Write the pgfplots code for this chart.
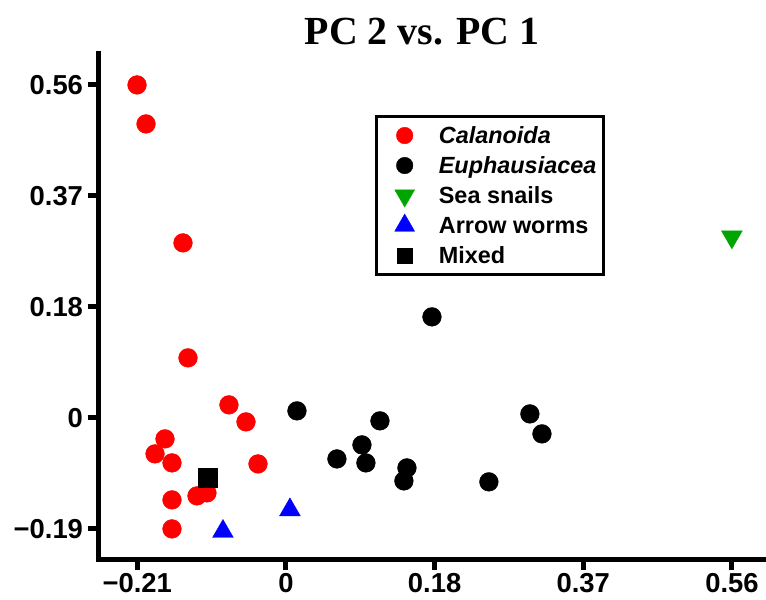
\documentclass[border=0pt]{standalone}
\usepackage{fontspec}
\setmainfont{Liberation Sans}
\newfontfamily\titlefont{Liberation Serif}
\usepackage{pgfplots}
\pgfplotsset{compat=1.18}

\definecolor{calred}{RGB}{255,0,0}
\definecolor{snailgreen}{RGB}{0,165,0}
\definecolor{wormblue}{RGB}{0,0,255}

% PCA scores: PC 1 (x) and PC 2 (y)
\pgfplotstableread{
x y
-0.1870  0.5600
-0.1757  0.4944
-0.1293  0.2943
-0.1230  0.1009
-0.0716  0.0219
-0.0502 -0.0067
-0.1519 -0.0353
-0.1644 -0.0605
-0.1431 -0.0757
-0.0351 -0.0774
-0.1431 -0.1379
-0.1117 -0.1312
-0.0992 -0.1261
-0.1431 -0.1867
}\calanoida

\pgfplotstableread{
x y
0.0138  0.0118
0.0640 -0.0690
0.0954 -0.0454
0.1004 -0.0757
0.1180 -0.0050
0.1519 -0.0841
0.1481 -0.1060
0.1833  0.1699
0.2548 -0.1076
0.3063  0.0067
0.3214 -0.0269
}\euphausiacea

\pgfplotstableread{
x y
0.5599 0.3044
}\seasnails

\pgfplotstableread{
x y
-0.0791 -0.1910
 0.0050 -0.1547
}\arrowworms

\pgfplotstableread{
x y
-0.0985 -0.1001
}\mixed

\pgfplotsset{
  % scatter series whose legend image is one mark with room after it
  pcmarks/.style={only marks,
    legend image code/.code={%
      \path (0bp,0bp) (55bp,0bp);
      \draw[##1] plot coordinates {(22bp,0bp)};}},
}

\begin{document}
\begin{tikzpicture}[x=1bp,y=1bp]
\path[use as bounding box] (0,0) rectangle (766,600);
\begin{axis}[
  at={(98bp,40bp)}, anchor=south west,
  scale only axis, width=665bp, height=506bp,
  xmin=-0.236, xmax=0.599, ymin=-0.239, ymax=0.612,
  axis lines=left,
  axis line style={-, line width=5bp, line cap=rect},
  every outer x axis line/.append style={line width=5bp},
  every outer y axis line/.append style={line width=5bp},
  xtick={-0.18667,0,0.18667,0.37333,0.56},
  xticklabels={−0.21,0,0.18,0.37,0.56},
  ytick={-0.18667,0,0.18667,0.37333,0.56},
  yticklabels={−0.19,0,0.18,0.37,0.56},
  tick align=outside, major tick length=10.5bp,
  every tick/.style={line width=5bp, black},
  ticklabel style={font=\fontsize{27.5}{32}\selectfont\bfseries},
  xticklabel style={inner sep=1bp, yshift=-1.5bp},
  yticklabel style={xshift=-1bp},
  legend style={at={(0.4165,0.8794)}, anchor=north west,
    draw=black, line width=3bp,
    font=\fontsize{23.5}{28}\selectfont\bfseries,
    row sep=6bp, column sep=0bp, inner xsep=6bp, inner ysep=7bp,
    nodes={inner sep=1bp, text height=19bp, text depth=3bp}},
  legend cell align=left,
  clip=false,
]
\addplot[pcmarks, mark=*, mark size=9.4bp, color=calred,
  legend image post style={line width=0.4pt, mark size=8.3bp}] table {\calanoida};
\addlegendentry{\textit{Calanoida}}
\addplot[pcmarks, mark=*, mark size=9.4bp, color=black,
  legend image post style={line width=0.4pt, mark size=8.3bp}] table {\euphausiacea};
\addlegendentry{\textit{Euphausiacea}}
\addplot[pcmarks, mark=triangle*, mark size=12bp, color=snailgreen, mark options={rotate=180},
  legend image post style={line width=0.4pt, mark size=11.5bp}] table {\seasnails};
\addlegendentry{Sea snails}
\addplot[pcmarks, mark=triangle*, mark size=12bp, color=wormblue,
  legend image post style={line width=0.4pt, mark size=11.5bp}] table {\arrowworms};
\addlegendentry{Arrow worms}
\addplot[pcmarks, mark=square*, mark size=9.5bp, color=black,
  legend image post style={line width=0.4pt, mark size=7.8bp}] table {\mixed};
\addlegendentry{Mixed}
\end{axis}
\node[anchor=base, font=\titlefont\bfseries\fontsize{40}{44}\selectfont] at (422,555) {PC 2 vs. PC 1};
\end{tikzpicture}
\end{document}
